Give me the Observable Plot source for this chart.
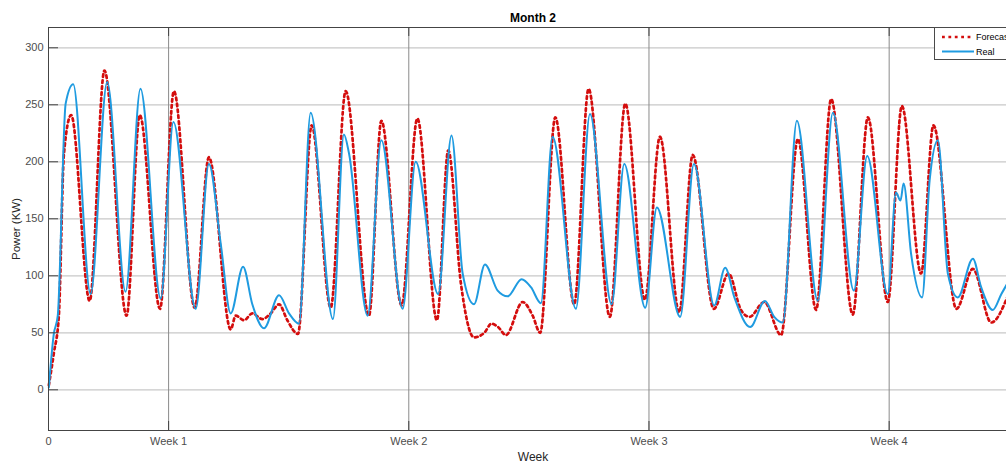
<!DOCTYPE html>
<html>
<head>
<meta charset="utf-8">
<script src="https://cdn.jsdelivr.net/npm/d3@7"></script>
<script src="https://cdn.jsdelivr.net/npm/@observablehq/plot@0.6"></script>
<style>
  html, body { margin: 0; padding: 0; background: #fff; overflow: hidden; }
  #wrap { position: relative; width: 1006px; height: 463px; overflow: hidden; background: #fff; }
  #wrap > svg { max-width: none !important; width: 1017px !important; height: 463px !important; display: block; }
  #legend { position: absolute; left: 934px; top: 27px; width: 80px; height: 33px; box-sizing: border-box;
            border: 1px solid #4a4a4a; background: #fff; font-family: "Liberation Sans", Arial, sans-serif; }
</style>
</head>
<body>
<div id="wrap"></div>
<script>
// ---- data (x in days since start of month, power in KW) ----
const realDay = [0.01,0.155,0.27,0.50,0.72,1.225,1.71,2.245,2.68,3.27,3.64,4.29,4.675,5.02,5.31,5.67,5.94,6.28,6.72,7.01,7.30,7.64,8.29,8.61,8.76,9.30,9.70,10.32,10.70,11.355,11.745,12.07,12.40,12.72,13.09,13.38,13.79,14.06,14.35,14.69,15.37,15.78,16.41,16.78,17.39,17.73,18.41,18.81,19.40,19.72,19.99,20.45,20.88,21.15,21.40,21.81,22.42,22.86,23.47,23.86,24.46,24.70,24.83,24.92,25.14,25.46,25.68,25.92,26.21,26.50,26.94,27.18,27.52,27.77,27.94];
const realKW  = [2,49,65,251,268,84,270,86,264,80,235,71,198,128,67,108,75,54,83,67,58,243,62,224,207,65,219,71,200,84,223,102,75,110,87,82,97,90,76,222,71,242,75,198,72,160,64,198,74,107,81,55,78,64,59,236,78,243,87,205,84,173,166,181,119,81,184,219,102,81,115,90,70,84,93];

const forecastDay = [0.01,0.155,0.30,0.45,0.66,1.20,1.63,2.275,2.66,3.25,3.655,4.26,4.675,5.31,5.455,5.70,5.94,6.23,6.475,6.72,6.96,7.27,7.67,8.225,8.66,9.34,9.70,10.29,10.75,11.32,11.65,12.02,12.40,12.70,12.91,13.105,13.33,13.82,14.11,14.33,14.77,15.32,15.74,16.36,16.81,17.38,17.82,18.38,18.775,19.39,19.82,20.18,20.43,20.86,21.35,21.84,22.37,22.81,23.44,23.88,24.46,24.87,25.43,25.79,26.46,26.94,27.475,27.94];
const forecastKW  = [4,32,64,207,241,78,280,65,241,71,262,72,204,53,65,61,67,62,67,75,61,49,232,72,262,65,236,74,238,61,210,93,46,50,58,55,48,77,65,50,239,75,264,64,251,79,222,68,206,71,102,70,64,77,48,220,70,255,66,239,77,249,102,232,71,106,59,81];

const yTicks = [0,50,100,150,200,250,300];
const xTickDays = [0,3.5,10.5,17.5,24.5];
const xTickLabels = ["0","Week 1","Week 2","Week 3","Week 4"];
const seriesNames = ["Forecast","Real"];

const real = realDay.map((d,i) => ({day: d, kw: realKW[i]}));
const forecast = forecastDay.map((d,i) => ({day: d, kw: forecastKW[i]}));

const W = 1017, H = 463, mL = 48, mR = 0, mT = 27, mB = 33;
const yDom = [-35.7, 317.8];
const innerW = W - mL - mR, innerH = H - mT - mB;
const font = "'Liberation Sans', Arial, Helvetica, sans-serif";

const chart = Plot.plot({
  width: W, height: H,
  marginLeft: mL, marginRight: mR, marginTop: mT, marginBottom: mB,
  style: {fontFamily: font, background: "#fff", overflow: "visible", maxWidth: "none"},
  x: {domain: [0, 28.24]},
  y: {domain: yDom},
  marks: [
    Plot.ruleY(yTicks, {stroke: "#c8c8c8", strokeWidth: 1.2}),
    Plot.ruleX(xTickDays.slice(1), {stroke: "#8a8a8a", strokeWidth: 1}),
    Plot.line(forecast, {x: "day", y: "kw", stroke: "#d40d0d", strokeWidth: 2.7,
      strokeDasharray: "2.7 3.3", curve: "monotone-x"}),
    Plot.line(real, {x: "day", y: "kw", stroke: "#1f9be0", strokeWidth: 2, curve: "monotone-x"}),
    // box
    Plot.ruleX([0], {stroke: "#444", strokeWidth: 1}),
    Plot.ruleY(yDom, {stroke: "#444", strokeWidth: 1}),
    // inward ticks
    Plot.ruleY(yTicks, {stroke: "#444", insetRight: innerW - 10}),
    Plot.ruleX(xTickDays, {stroke: "#444", insetTop: innerH - 9}),
    Plot.ruleX(xTickDays, {stroke: "#444", insetBottom: innerH - 9}),
    Plot.axisY({ticks: yTicks, tickSize: 0, tickPadding: 5, fontSize: 11, color: "#4d4d4d", label: null}),
    Plot.axisX({ticks: xTickDays, tickSize: 0, tickPadding: 7, fontSize: 11, color: "#4d4d4d", label: null,
      tickFormat: d => xTickLabels[xTickDays.indexOf(d)]}),
    Plot.text(["Month 2"], {frameAnchor: "top", dy: -9.7, lineAnchor: "middle", textAnchor: "middle",
      fontWeight: "bold", fontSize: 12, fill: "#000"}),
    Plot.text(["Week"], {frameAnchor: "bottom", dy: 26.3, lineAnchor: "middle", textAnchor: "middle",
      fontSize: 12, fill: "#262626"}),
    Plot.text(["Power (KW)"], {frameAnchor: "left", dx: -32, rotate: -90, lineAnchor: "middle", textAnchor: "middle",
      fontSize: 11.5, fill: "#262626"})
  ]
});

const wrap = document.getElementById("wrap");
wrap.appendChild(chart);

const legend = document.createElement("div");
legend.id = "legend";
legend.innerHTML = `
<svg width="80" height="33" style="display:block">
  <line x1="7" y1="9" x2="39" y2="9" stroke="#d40d0d" stroke-width="2.7" stroke-dasharray="2.8 3.6"/>
  <text x="41" y="9" dy="0.35em" font-size="9" fill="#000" font-family="${font}">${seriesNames[0]}</text>
  <line x1="7" y1="23.5" x2="39" y2="23.5" stroke="#1f9be0" stroke-width="2"/>
  <text x="41" y="23.5" dy="0.35em" font-size="9" fill="#000" font-family="${font}">${seriesNames[1]}</text>
</svg>`;
wrap.appendChild(legend);
</script>
</body>
</html>
